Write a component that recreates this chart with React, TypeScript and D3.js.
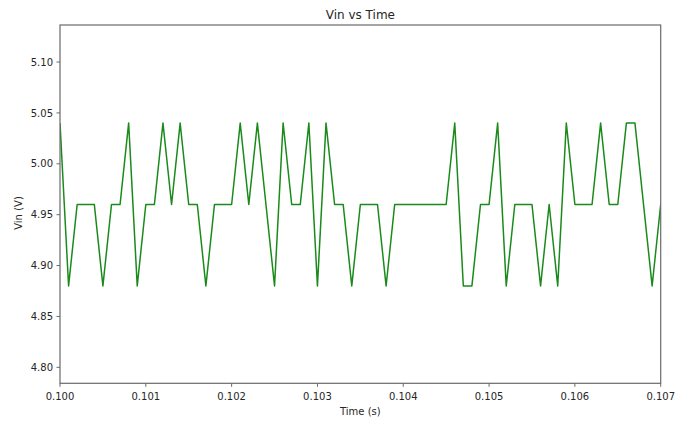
import React from "react";
import * as d3 from "d3";

const T0 = 0.1;
const DT = 0.0001;
const vin = [
  5.04, 4.88, 4.96, 4.96, 4.96, 4.88, 4.96, 4.96, 5.04, 4.88,
  4.96, 4.96, 5.04, 4.96, 5.04, 4.96, 4.96, 4.88, 4.96, 4.96,
  4.96, 5.04, 4.96, 5.04, 4.96, 4.88, 5.04, 4.96, 4.96, 5.04,
  4.88, 5.04, 4.96, 4.96, 4.88, 4.96, 4.96, 4.96, 4.88, 4.96,
  4.96, 4.96, 4.96, 4.96, 4.96, 4.96, 5.04, 4.88, 4.88, 4.96,
  4.96, 5.04, 4.88, 4.96, 4.96, 4.96, 4.88, 4.96, 4.88, 5.04,
  4.96, 4.96, 4.96, 5.04, 4.96, 4.96, 5.04, 5.04, 4.96, 4.88,
  4.96,
];
const xTicks = [0.1, 0.101, 0.102, 0.103, 0.104, 0.105, 0.106, 0.107];
const yTicks = [4.8, 4.85, 4.9, 4.95, 5.0, 5.05, 5.1];

const W = 685;
const H = 421;
const L = 60;
const R = 660.7;
const TOP = 25;
const BOT = 383.3;

export default function App() {
  const x = d3.scaleLinear().domain([0.1, 0.107]).range([L, R]);
  const y = d3.scaleLinear().domain([4.7843, 5.1364]).range([BOT, TOP]);
  const pts: [number, number][] = vin.map((v, i) => [T0 + i * DT, v]);
  const line = d3
    .line<[number, number]>()
    .x((d) => x(d[0]))
    .y((d) => y(d[1]));
  const font = "DejaVu Sans, sans-serif";
  const textCol = "#262626";
  const axisCol = "#6a6a6a";
  return (
    <svg
      width={W}
      height={H}
      style={{ position: "absolute", left: 0, top: 0, background: "#fff" }}
      fontFamily={font}
    >
      <defs>
        <clipPath id="plot">
          <rect x={L} y={TOP} width={R - L} height={BOT - TOP} />
        </clipPath>
      </defs>
      <path
        d={line(pts) || ""}
        fill="none"
        stroke="#1a8a1a"
        strokeWidth={1.5}
        strokeLinejoin="round"
        clipPath="url(#plot)"
      />
      <rect
        x={L}
        y={TOP}
        width={R - L}
        height={BOT - TOP}
        fill="none"
        stroke={axisCol}
        strokeWidth={1.2}
      />
      {xTicks.map((t) => (
        <g key={"x" + t}>
          <line x1={x(t)} x2={x(t)} y1={BOT} y2={BOT + 3.5} stroke={axisCol} strokeWidth={1} />
          <text x={x(t)} y={400} textAnchor="middle" fontSize={10} fill={textCol}>
            {t.toFixed(3)}
          </text>
        </g>
      ))}
      {yTicks.map((t) => (
        <g key={"y" + t}>
          <line x1={L - 3.5} x2={L} y1={y(t)} y2={y(t)} stroke={axisCol} strokeWidth={1} />
          <text x={L - 7} y={y(t) + 3.6} textAnchor="end" fontSize={10} fill={textCol}>
            {t.toFixed(2)}
          </text>
        </g>
      ))}
      <text x={(L + R) / 2} y={19} textAnchor="middle" fontSize={12} fill={textCol}>
        Vin vs Time
      </text>
      <text x={(L + R) / 2} y={415} textAnchor="middle" fontSize={10} fill={textCol}>
        Time (s)
      </text>
      <text
        transform={`translate(21.5, 213) rotate(-90)`}
        textAnchor="middle"
        fontSize={10}
        fill={textCol}
      >
        Vin (V)
      </text>
    </svg>
  );
}
